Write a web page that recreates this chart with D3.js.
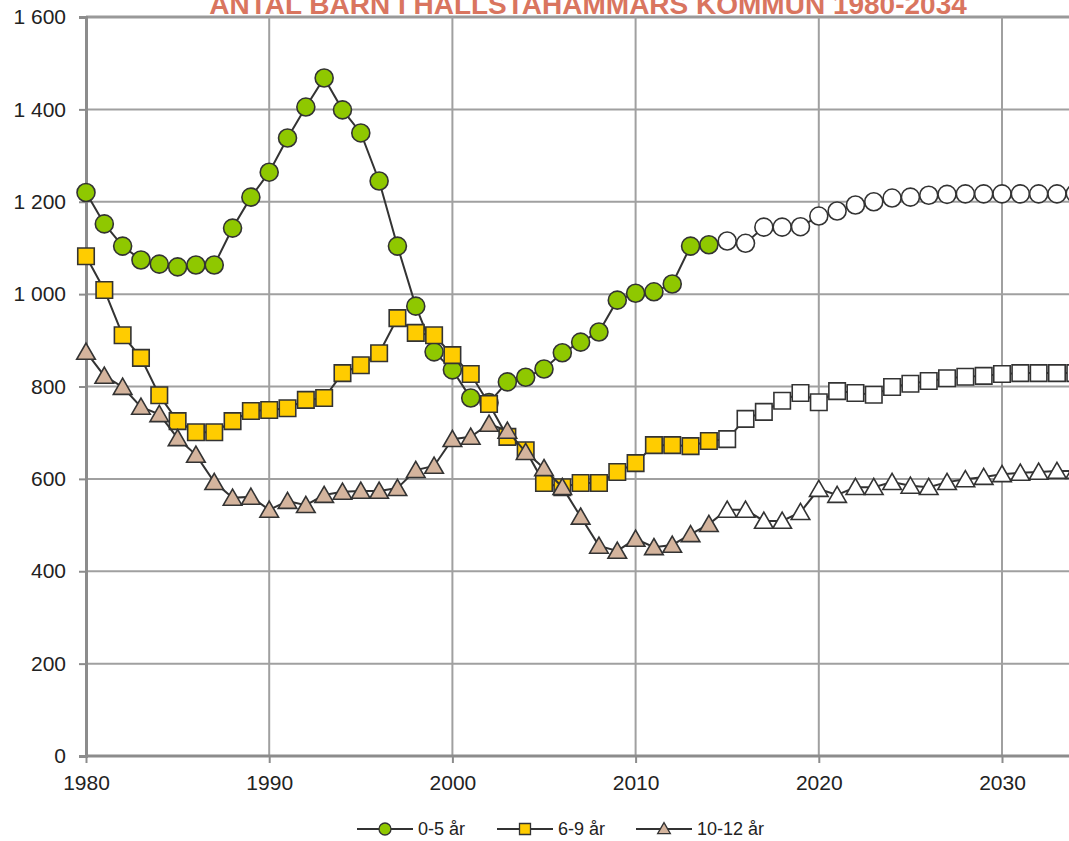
<!DOCTYPE html>
<html>
<head>
<meta charset="utf-8">
<script src="https://cdn.jsdelivr.net/npm/d3@7"></script>
<style>
  body { margin: 0; background: #fff; }
  svg { display: block; font-family: "Liberation Sans", Arial, sans-serif; }
</style>
</head>
<body>
<div id="chart"></div>
<script>
// Antal barn i Hallstahammars kommun, 1980-2034 (from 2015 on: prognos)
var years = d3.range(1980, 2035);
var firstForecastYear = 2015;

var age0to5 = [1220, 1152, 1104, 1074, 1065, 1059, 1063, 1063, 1143, 1210,
               1264, 1338, 1405, 1468, 1399, 1349, 1245, 1104, 974, 875,
               836, 775, 765, 810, 820, 838, 873, 896, 918, 987,
               1002, 1005, 1022, 1104, 1107, 1115, 1110, 1145, 1145, 1146,
               1169, 1180, 1193, 1200, 1208, 1210, 1214, 1216, 1217, 1217,
               1217, 1217, 1217, 1217, 1218];

var age6to9 = [1082, 1009, 911, 862, 781, 725, 701, 701, 725, 747,
               749, 753, 771, 775, 829, 846, 872, 948, 916, 911,
               868, 827, 762, 691, 662, 591, 582, 591, 591, 615,
               634, 673, 673, 671, 682, 686, 730, 745, 769, 786,
               766, 790, 786, 782, 799, 806, 812, 818, 821, 823,
               827, 829, 829, 829, 829];

var age10to12 = [875, 823, 799, 756, 740, 688, 652, 593, 559, 561,
                 533, 552, 543, 565, 572, 574, 574, 580, 619, 628,
                 686, 691, 719, 704, 658, 623, 582, 518, 455, 444,
                 470, 452, 457, 480, 502, 533, 533, 509, 509, 528,
                 578, 565, 582, 582, 593, 585, 582, 593, 599, 604,
                 610, 613, 615, 617, 617];

var seriesNames = ['0-5 år', '6-9 år', '10-12 år'];
var yTicks = [0, 200, 400, 600, 800, 1000, 1200, 1400, 1600];
var xTicks = [1980, 1990, 2000, 2010, 2020, 2030];
var title = 'ANTAL BARN I HALLSTAHAMMARS KOMMUN 1980-2034';

var width = 1069, height = 841;
var margin = { left: 86, top: 17, bottom: 85 };

var svg = d3.select('#chart').append('svg').attr('width', width).attr('height', height);

var x = d3.scaleLinear().domain([1980, 2034]).range([margin.left, margin.left + 54 * 18.32]);
var y = d3.scaleLinear().domain([0, 1600]).range([height - margin.bottom, margin.top]);

var series = [
  { name: seriesNames[0], values: age0to5, shape: 'circle', fill: '#8fc800' },
  { name: seriesNames[1], values: age6to9, shape: 'square', fill: '#ffcc00' },
  { name: seriesNames[2], values: age10to12, shape: 'triangle', fill: '#d4b49d' }
];

var symbols = {
  circle: d3.symbol().type(d3.symbolCircle).size(Math.PI * 81),
  square: d3.symbol().type(d3.symbolSquare).size(16.5 * 16.5),
  triangle: d3.symbol().type(d3.symbolTriangle).size(150)
};

// Title (partly cut by top edge, as in the source picture)
svg.append('text')
  .attr('x', 588).attr('y', 14)
  .attr('text-anchor', 'middle')
  .attr('fill', '#d9755f')
  .style('font-weight', 'bold')
  .style('font-size', '28px')
  .text(title);

// Gridlines
svg.append('g').selectAll('line')
  .data(yTicks.slice(1)).join('line')
  .attr('x1', margin.left).attr('x2', width)
  .attr('y1', function(d) { return y(d); }).attr('y2', function(d) { return y(d); })
  .attr('stroke', function(d) { return d === 1600 ? '#999' : '#a0a0a0'; })
  .attr('stroke-width', function(d) { return d === 1600 ? 3 : 2; });

svg.append('g').selectAll('line')
  .data(xTicks.slice(1)).join('line')
  .attr('x1', function(d) { return x(d); }).attr('x2', function(d) { return x(d); })
  .attr('y1', margin.top).attr('y2', y(0))
  .attr('stroke', '#a0a0a0').attr('stroke-width', 2);

// Axes
var yAxis = svg.append('g')
  .attr('transform', 'translate(' + margin.left + ',0)')
  .call(d3.axisLeft(y).tickValues(yTicks).tickSize(7).tickPadding(13)
    .tickFormat(function(d) { return d3.format(',')(d).replace(',', ' '); }));
var xAxis = svg.append('g')
  .attr('transform', 'translate(0,' + y(0) + ')')
  .call(d3.axisBottom(x).tickValues(xTicks).tickSize(7).tickPadding(12).tickFormat(d3.format('d')));

[yAxis, xAxis].forEach(function(ax) {
  ax.select('.domain').attr('stroke', '#8c8c8c').attr('stroke-width', 3);
  ax.selectAll('.tick line').attr('stroke', '#8c8c8c').attr('stroke-width', 2);
  ax.selectAll('.tick text').attr('fill', '#222').style('font-size', '21px')
    .style('font-family', '"Liberation Sans", Arial, sans-serif');
});
xAxis.select('.domain').attr('d', 'M' + margin.left + ',0H' + width);

// Lines and markers
var line = d3.line()
  .x(function(d, i) { return x(years[i]); })
  .y(function(d) { return y(d); });

series.forEach(function(s) {
  var g = svg.append('g');
  g.append('path')
    .datum(s.values)
    .attr('fill', 'none')
    .attr('stroke', '#333')
    .attr('stroke-width', 2)
    .attr('d', line);

  g.selectAll('path.mark')
    .data(s.values).join('path')
    .attr('class', 'mark')
    .attr('transform', function(d, i) {
      var dy = s.shape === 'triangle' ? 2 : 0;
      return 'translate(' + x(years[i]) + ',' + (y(d) + dy) + ')';
    })
    .attr('d', symbols[s.shape])
    .attr('fill', function(d, i) { return years[i] >= firstForecastYear ? '#fff' : s.fill; })
    .attr('stroke', '#333')
    .attr('stroke-width', 1.6);
});

// Legend
var legendItems = [
  { x0: 357, shape: 'circle', fill: series[0].fill, label: seriesNames[0] },
  { x0: 497, shape: 'square', fill: series[1].fill, label: seriesNames[1] },
  { x0: 636, shape: 'triangle', fill: series[2].fill, label: seriesNames[2] }
];
var legendSymbols = {
  circle: d3.symbol().type(d3.symbolCircle).size(Math.PI * 36),
  square: d3.symbol().type(d3.symbolSquare).size(121),
  triangle: d3.symbol().type(d3.symbolTriangle).size(70)
};
var lg = svg.append('g').attr('transform', 'translate(0,829)');
legendItems.forEach(function(it) {
  lg.append('line').attr('x1', it.x0).attr('x2', it.x0 + 56).attr('y1', 0).attr('y2', 0)
    .attr('stroke', '#333').attr('stroke-width', 2);
  lg.append('path').attr('d', legendSymbols[it.shape])
    .attr('transform', 'translate(' + (it.x0 + 28) + ',' + (it.shape === 'triangle' ? 1 : 0) + ')')
    .attr('fill', it.fill).attr('stroke', '#333').attr('stroke-width', 1.3);
  lg.append('text').attr('x', it.x0 + 61).attr('y', 6)
    .attr('fill', '#222').style('font-size', '18px')
    .text(it.label);
});
</script>
</body>
</html>
